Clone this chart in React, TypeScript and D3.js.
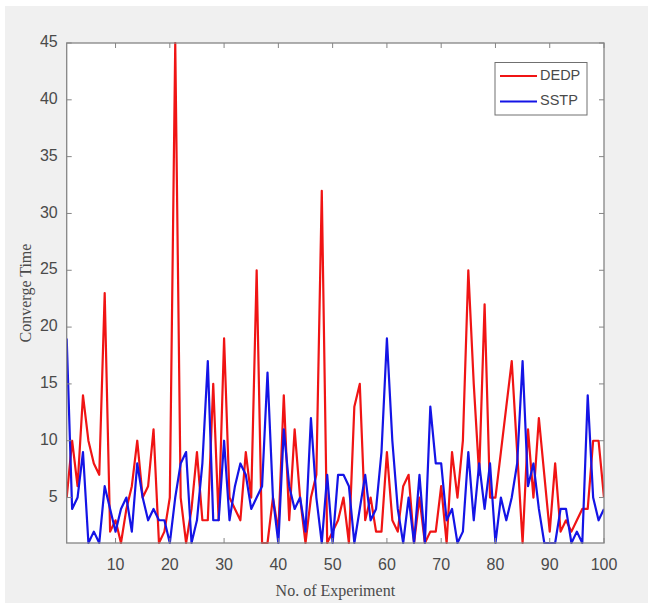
import React from "react";
import * as d3 from "d3";

const experiments: number[] = d3.range(1, 101);

const dedp: number[] = [
  5, 10, 6, 14, 10, 8, 7, 23, 2, 3,
  1, 4, 6, 10, 5, 6, 11, 1, 2, 5,
  45, 5, 1, 4, 9, 3, 3, 15, 3, 19,
  5, 4, 3, 9, 5, 25, 1, 1, 5, 2,
  14, 3, 11, 5, 1, 5, 7, 32, 1, 2,
  3, 5, 1, 13, 15, 3, 5, 2, 2, 9,
  3, 2, 6, 7, 1, 5, 1, 2, 2, 6,
  1, 9, 5, 10, 25, 15, 7, 22, 5, 5,
  9, 13, 17, 9, 1, 11, 5, 12, 7, 2,
  8, 2, 3, 2, 3, 4, 4, 10, 10, 5,
];

const sstp: number[] = [
  19, 4, 5, 9, 1, 2, 1, 6, 4, 2,
  4, 5, 2, 8, 5, 3, 4, 3, 3, 1,
  5, 8, 9, 1, 3, 8, 17, 3, 3, 10,
  3, 6, 8, 7, 4, 5, 6, 16, 5, 1,
  11, 6, 4, 5, 2, 12, 5, 1, 7, 1,
  7, 7, 6, 1, 4, 7, 3, 4, 9, 19,
  10, 4, 1, 5, 1, 7, 1, 13, 8, 8,
  3, 4, 1, 2, 9, 3, 8, 4, 8, 1,
  5, 3, 5, 8, 17, 6, 8, 4, 1, 1,
  1, 4, 4, 1, 2, 1, 14, 5, 3, 4,
];

const xTicks: number[] = [10, 20, 30, 40, 50, 60, 70, 80, 90, 100];
const yTicks: number[] = [5, 10, 15, 20, 25, 30, 35, 40, 45];
const seriesNames: string[] = ["DEDP", "SSTP"];
const seriesColors: string[] = ["#f01414", "#1414e6"];

const W = 648;
const H = 603;
const L = 66.7;
const R = 604;
const T = 43;
const B = 543;

export default function App() {
  const x = d3.scaleLinear().domain([1, 100]).range([L, R]);
  const y = d3.scaleLinear().domain([1, 45]).range([B, T]);
  const line = d3
    .line<number>()
    .x((_, i) => x(experiments[i]))
    .y((d) => y(d));
  const series = [dedp, sstp];
  const axisColor = "#858585";
  const textColor = "#4a4a4a";
  const tickLen = 5;

  return (
    <svg
      width={W}
      height={H}
      style={{ position: "absolute", left: 0, top: 0, display: "block" }}
    >
      <rect x={0} y={0} width={W} height={H} fill="#ffffff" />
      <rect x={5} y={6} width={W - 5} height={H - 6} fill="#f0f0f0" />
      <rect x={L} y={T} width={R - L} height={B - T} fill="#ffffff" />
      <defs>
        <clipPath id="plotclip">
          <rect x={L} y={T - 1} width={R - L} height={B - T + 2} />
        </clipPath>
      </defs>
      <g clipPath="url(#plotclip)">
        {series.map((s, k) => (
          <path
            key={seriesNames[k]}
            d={line(s) || ""}
            fill="none"
            stroke={seriesColors[k]}
            strokeWidth={2.2}
            strokeLinejoin="round"
          />
        ))}
      </g>
      {/* ticks */}
      {xTicks.map((t) => (
        <g key={"xt" + t}>
          <line x1={x(t)} x2={x(t)} y1={B} y2={B - tickLen} stroke={axisColor} />
          <line x1={x(t)} x2={x(t)} y1={T} y2={T + tickLen} stroke={axisColor} />
          <text
            x={x(t)}
            y={566}
            textAnchor="middle"
            dominantBaseline="middle"
            fontFamily="Liberation Sans, Arial, sans-serif"
            fontSize={16}
            fill={textColor}
          >
            {t}
          </text>
        </g>
      ))}
      {yTicks.map((t) => (
        <g key={"yt" + t}>
          <line x1={L} x2={L + tickLen} y1={y(t)} y2={y(t)} stroke={axisColor} />
          <line x1={R} x2={R - tickLen} y1={y(t)} y2={y(t)} stroke={axisColor} />
          <text
            x={L - 9}
            y={y(t)}
            textAnchor="end"
            dominantBaseline="middle"
            fontFamily="Liberation Sans, Arial, sans-serif"
            fontSize={16}
            fill={textColor}
          >
            {t}
          </text>
        </g>
      ))}
      <rect
        x={L}
        y={T}
        width={R - L}
        height={B - T}
        fill="none"
        stroke={axisColor}
        strokeWidth={1.3}
      />
      {/* axis labels */}
      <text
        x={(L + R) / 2}
        y={592}
        textAnchor="middle"
        dominantBaseline="middle"
        fontFamily="Liberation Serif, Times New Roman, serif"
        fontSize={16}
        fill={textColor}
      >
        No. of Experiment
      </text>
      <text
        transform={`translate(27, ${(T + B) / 2}) rotate(-90)`}
        textAnchor="middle"
        dominantBaseline="middle"
        fontFamily="Liberation Serif, Times New Roman, serif"
        fontSize={16}
        fill={textColor}
      >
        Converge Time
      </text>
      {/* legend */}
      <rect x={495} y={62.5} width={92} height={52.5} fill="#ffffff" stroke="#707070" strokeWidth={1} />
      {seriesNames.map((n, k) => (
        <g key={"lg" + n}>
          <line
            x1={500}
            x2={537}
            y1={76 + k * 25.5}
            y2={76 + k * 25.5}
            stroke={seriesColors[k]}
            strokeWidth={2.2}
          />
          <text
            x={540}
            y={76 + k * 25.5}
            dominantBaseline="middle"
            fontFamily="Liberation Sans, Arial, sans-serif"
            fontSize={14.5}
            fill={textColor}
          >
            {n}
          </text>
        </g>
      ))}
    </svg>
  );
}
